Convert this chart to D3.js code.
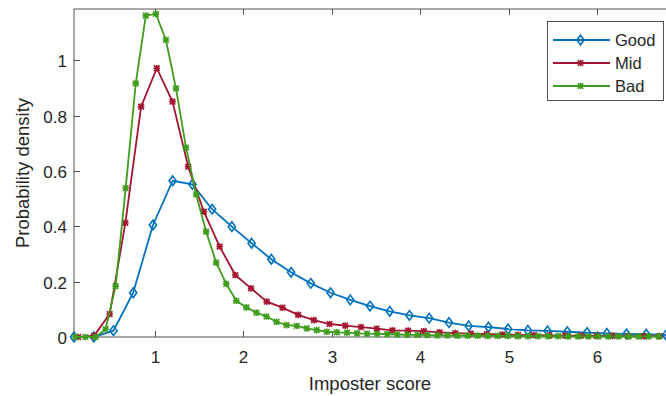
<!DOCTYPE html>
<html>
<head>
<meta charset="utf-8">
<script src="https://cdn.jsdelivr.net/npm/d3@7"></script>
<style>
  body { margin: 0; background: #fff; }
  svg text { font-family: 'Liberation Sans', Arial, sans-serif; fill: #262626; }
</style>
</head>
<body>
<div id="chart"></div>
<script>
// bin layout (start, step) per series, in imposter-score units
const goodStart = 0.087, goodStep = 0.2231;
const midStart = 0.135, midStep = 0.1776;
const badStart = 0.103, badStep = 0.1137;

const goodValues = [0, 0, 0.023, 0.16, 0.405, 0.565, 0.552, 0.462, 0.399, 0.339, 0.281,
  0.234, 0.194, 0.16, 0.134, 0.112, 0.093, 0.078, 0.068, 0.052, 0.040,
  0.036, 0.029, 0.024, 0.022, 0.019, 0.016, 0.013, 0.011, 0.010, 0.007];

const midValues = [0, 0.004, 0.083, 0.413, 0.833, 0.972, 0.851, 0.616, 0.453, 0.327, 0.224,
  0.176, 0.128, 0.106, 0.08, 0.061, 0.047, 0.041, 0.036, 0.030, 0.024,
  0.023, 0.021, 0.017, 0.014, 0.012, 0.010, 0.009, 0.008, 0.007, 0.006,
  0.005, 0.005, 0.004, 0.004, 0.003, 0.003, 0.003];

const badValues = [0, 0, 0, 0.028, 0.184, 0.538, 0.917, 1.162, 1.168, 1.074, 0.899,
  0.685, 0.516, 0.381, 0.269, 0.192, 0.131, 0.107, 0.088, 0.074, 0.055,
  0.043, 0.040, 0.031, 0.025, 0.019, 0.017, 0.016, 0.013, 0.012, 0.011,
  0.010, 0.009, 0.008, 0.008, 0.007, 0.006, 0.006, 0.005, 0.005, 0.005,
  0.004, 0.004, 0.004, 0.003, 0.003, 0.003, 0.003, 0.003, 0.002, 0.002,
  0.002, 0.002, 0.002, 0.002, 0.002, 0.002, 0.002, 0.002];

const xTicks = [1, 2, 3, 4, 5, 6];
const yTicks = [0, 0.2, 0.4, 0.6, 0.8, 1];

const series = [
  { name: 'Good', color: '#0072BD', marker: 'diamond', start: goodStart, step: goodStep, values: goodValues },
  { name: 'Mid', color: '#A2142F', marker: 'star', start: midStart, step: midStep, values: midValues },
  { name: 'Bad', color: '#3F9C1D', marker: 'star', start: badStart, step: badStep, values: badValues }
];

const W = 666, H = 396;
const plot = { left: 74, right: 666, top: 9, bottom: 337 };

const svg = d3.select('#chart').append('svg').attr('width', W).attr('height', H);

const x = d3.scaleLinear().domain([0.087, 6.78]).range([plot.left, plot.right]);
const y = d3.scaleLinear().domain([0, 1.186]).range([plot.bottom, plot.top]);

const axisColor = '#262626';
const tickLen = 6;

// axes box (left, top, bottom)
svg.append('path')
  .attr('d', `M${plot.right + 1},${plot.top}H${plot.left}V${plot.bottom}H${plot.right + 1}`)
  .attr('fill', 'none').attr('stroke', axisColor).attr('stroke-width', 0.8);

// ticks (inward, mirrored on top)
xTicks.forEach((t) => {
  const px = Math.round(x(t)) + 0.5;
  svg.append('line').attr('x1', px).attr('x2', px).attr('y1', plot.bottom).attr('y2', plot.bottom - tickLen)
    .attr('stroke', axisColor).attr('stroke-width', 0.8);
  svg.append('line').attr('x1', px).attr('x2', px).attr('y1', plot.top).attr('y2', plot.top + tickLen)
    .attr('stroke', axisColor).attr('stroke-width', 0.8);
  svg.append('text').attr('x', px).attr('y', plot.bottom + 26).attr('text-anchor', 'middle')
    .style('font-size', '17px').text(t);
});
yTicks.forEach((t) => {
  const py = Math.round(y(t)) + 0.5;
  svg.append('line').attr('x1', plot.left).attr('x2', plot.left + tickLen).attr('y1', py).attr('y2', py)
    .attr('stroke', axisColor).attr('stroke-width', 0.8);
  svg.append('text').attr('x', plot.left - 7).attr('y', py + 6).attr('text-anchor', 'end')
    .style('font-size', '17px').text(t);
});

svg.append('text').attr('x', 370).attr('y', 390).attr('text-anchor', 'middle')
  .style('font-size', '18.5px').text('Imposter score');
svg.append('text').attr('transform', `translate(29,${(plot.top + plot.bottom) / 2}) rotate(-90)`)
  .attr('text-anchor', 'middle').style('font-size', '18.5px').text('Probability density');

const markerPath = (type) => {
  if (type === 'diamond') return 'M0,-4.8L3.6,0L0,4.8L-3.6,0Z';
  const r = 2.8;
  return `M${-r},${-r}L${r},${r}M${-r},${r}L${r},${-r}M0,${-r - 0.5}V${r + 0.5}M${-r - 0.5},0H${r + 0.5}`;
};

const line = d3.line().x((d) => x(d.x)).y((d) => y(d.y));

series.forEach((s) => {
  const pts = s.values.map((v, i) => ({ x: s.start + i * s.step, y: v }));
  const g = svg.append('g');
  g.append('path').datum(pts).attr('d', line)
    .attr('fill', 'none').attr('stroke', s.color).attr('stroke-width', 1.8);
  g.selectAll('path.mk').data(pts).enter().append('path').attr('class', 'mk')
    .attr('transform', (d) => `translate(${x(d.x)},${y(d.y)})`)
    .attr('d', markerPath(s.marker))
    .attr('fill', 'none').attr('stroke', s.color).attr('stroke-width', 1.6);
});

// legend
const legend = svg.append('g');
legend.append('rect').attr('x', 547.5).attr('y', 21.5).attr('width', 116).attr('height', 79)
  .attr('fill', '#fff').attr('stroke', axisColor).attr('stroke-width', 0.8);
series.forEach((s, i) => {
  const ly = 40 + i * 23;
  legend.append('line').attr('x1', 553).attr('x2', 610).attr('y1', ly).attr('y2', ly)
    .attr('stroke', s.color).attr('stroke-width', 1.8);
  legend.append('path').attr('transform', `translate(580.5,${ly})`).attr('d', markerPath(s.marker))
    .attr('fill', 'none').attr('stroke', s.color).attr('stroke-width', 1.6);
  legend.append('text').attr('x', 615).attr('y', ly + 6).style('font-size', '16.5px').text(s.name);
});
</script>
</body>
</html>
